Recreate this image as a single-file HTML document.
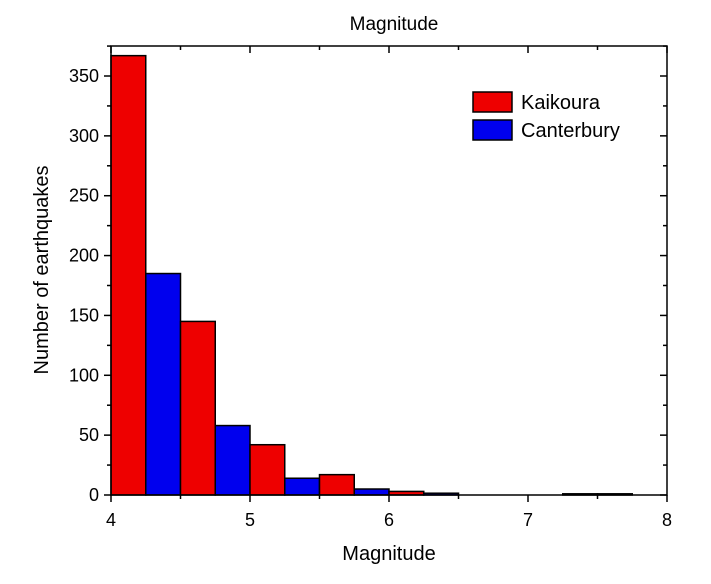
<!DOCTYPE html>
<html><head><meta charset="utf-8"><style>
body{margin:0;background:#fff;}
svg{display:block;font-family:"Liberation Sans",Arial,sans-serif;}
</style></head><body>
<svg id="chart" width="711" height="584">
<text x="394" y="30" font-size="19" text-anchor="middle">Magnitude</text>
<text x="389" y="560" font-size="20" text-anchor="middle">Magnitude</text>
<text transform="translate(48,270) rotate(-90)" font-size="20" text-anchor="middle">Number of earthquakes</text>
<g id="bars"></g>
<g id="axes"></g>
<g>
<rect x="473" y="92" width="39" height="20" fill="#ee0000" stroke="#000" stroke-width="1.5"/>
<text x="521" y="109" font-size="20">Kaikoura</text>
<rect x="473" y="120" width="39" height="20" fill="#0000ee" stroke="#000" stroke-width="1.5"/>
<text x="521" y="137" font-size="20">Canterbury</text>
</g>
</svg>
<script>
const binStarts = [4, 4.25, 4.5, 4.75, 5, 5.25, 5.5, 5.75, 6, 6.25, 7.25, 7.5];
const series = ['K', 'C', 'K', 'C', 'K', 'C', 'K', 'C', 'K', 'C', 'C', 'C'];
const counts = [367, 185, 145, 58, 42, 14, 17, 5, 3, 1.5, 1, 1];
const xTicks = [4, 5, 6, 7, 8];
const yTicks = [0, 50, 100, 150, 200, 250, 300, 350];
const binWidth = 0.25;
const NS = 'http://www.w3.org/2000/svg';
const X0 = 111, X1 = 667, Y0 = 495, YT = 46;
const xs = v => X0 + (v - 4) * (X1 - X0) / 4;
const ys = v => Y0 - v * (495 - 76) / 350;
function mk(tag, attrs, parent) { const e = document.createElementNS(NS, tag); for (const k in attrs) e.setAttribute(k, attrs[k]); parent.appendChild(e); return e; }
const bars = document.getElementById('bars');
binStarts.forEach((b, i) => {
  const r = mk('rect', {x: xs(b), y: ys(counts[i]), width: xs(b + binWidth) - xs(b), height: Y0 - ys(counts[i]), fill: series[i] === 'K' ? '#ee0000' : '#0000ee', stroke: '#000', 'stroke-width': 1.5}, bars);
  
  
});
const ax = document.getElementById('axes');
const frame = mk('rect', {x: X0, y: YT, width: X1 - X0, height: Y0 - YT, fill: 'none', stroke: '#000', 'stroke-width': 1.5}, ax);


xTicks.forEach(v => {
  const x = xs(v);
  mk('line', {x1: x, x2: x, y1: Y0, y2: Y0 + 7, stroke: '#000', 'stroke-width': 1.5}, ax);
  mk('line', {x1: x, x2: x, y1: YT, y2: YT + 7, stroke: '#000', 'stroke-width': 1.5}, ax);
  if (v < 8) {
    const xm = xs(v + 0.5);
    mk('line', {x1: xm, x2: xm, y1: Y0, y2: Y0 + 4, stroke: '#000', 'stroke-width': 1.5}, ax);
    mk('line', {x1: xm, x2: xm, y1: YT, y2: YT + 4, stroke: '#000', 'stroke-width': 1.5}, ax);
  }
  const t = mk('text', {x: x, y: Y0 + 31, 'font-size': 18, 'text-anchor': 'middle'}, ax);
  t.textContent = v;
  
  
});
yTicks.forEach(v => {
  const y = ys(v);
  mk('line', {x1: X0 - 7, x2: X0, y1: y, y2: y, stroke: '#000', 'stroke-width': 1.5}, ax);
  mk('line', {x1: X1 - 7, x2: X1, y1: y, y2: y, stroke: '#000', 'stroke-width': 1.5}, ax);
  const ym = ys(v + 25);
  if (ym > YT) {
    mk('line', {x1: X0 - 4, x2: X0, y1: ym, y2: ym, stroke: '#000', 'stroke-width': 1.5}, ax);
    mk('line', {x1: X1 - 4, x2: X1, y1: ym, y2: ym, stroke: '#000', 'stroke-width': 1.5}, ax);
  }
  const t = mk('text', {x: X0 - 12, y: y + 6, 'font-size': 18, 'text-anchor': 'end'}, ax);
  t.textContent = v;
  
  
});
</script>
</body></html>
